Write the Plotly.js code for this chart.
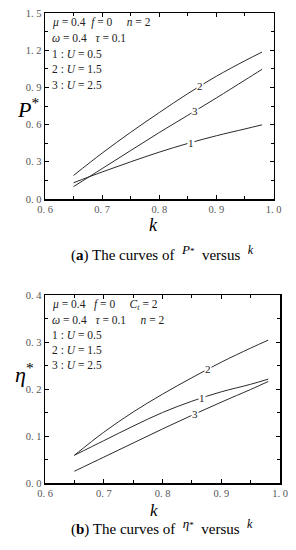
<!DOCTYPE html>
<html>
<head>
<meta charset="utf-8">
<script src="https://cdn.plot.ly/plotly-3.0.1.min.js"></script>
<style>html,body{margin:0;padding:0;background:#fff;}#chart{width:296px;height:550px;}</style>
</head>
<body>
<div id="chart"></div>
<script>
// ---- data ----
var kVals = [0.65, 0.70, 0.75, 0.80, 0.85, 0.90, 0.95, 0.98];
var P1 = [0.131, 0.218, 0.300, 0.378, 0.448, 0.510, 0.565, 0.598];
var P2 = [0.190, 0.370, 0.538, 0.697, 0.850, 0.990, 1.115, 1.185];
var P3 = [0.100, 0.245, 0.391, 0.536, 0.675, 0.815, 0.959, 1.046];
var eta1 = [0.059, 0.090, 0.121, 0.150, 0.174, 0.194, 0.210, 0.221];
var eta2 = [0.059, 0.108, 0.151, 0.189, 0.224, 0.257, 0.287, 0.304];
var eta3 = [0.025, 0.055, 0.085, 0.115, 0.144, 0.172, 0.199, 0.216];
var curveNames = ['1', '2', '3'];
var labelKTop = [0.856, 0.871, 0.862];
var labelKBot = [0.868, 0.877, 0.856];
var xTickVals = [0.6, 0.7, 0.8, 0.9, 1.0];
var xTickText = ['0.\u00a06', '0.\u00a07', '0.\u00a08', '0.\u00a09', '1.\u00a00'];
var yTickValsTop = [0, 0.3, 0.6, 0.9, 1.2, 1.5];
var yTickTextTop = ['0.\u00a00', '0.\u00a03', '0.\u00a06', '0.\u00a09', '1.\u00a02', '1.\u00a05'];
var yTickValsBot = [0, 0.1, 0.2, 0.3, 0.4];
var yTickTextBot = ['0.\u00a00', '0.\u00a01', '0.\u00a02', '0.\u00a03', '0.\u00a04'];
var textTop = ['<i>μ</i> = 0.4\u00a0\u00a0<i>f</i> = 0\u00a0\u00a0\u00a0\u00a0\u00a0<i>n</i> = 2',
               '<i>ω</i> = 0.4\u00a0\u00a0\u00a0<i>τ</i> = 0.1',
               '1 : <i>U</i> = 0.5', '2 : <i>U</i> = 1.5', '3 : <i>U</i> = 2.5'];
var textBot = ['<i>μ</i> = 0.4\u00a0\u00a0\u00a0<i>f</i> = 0\u00a0\u00a0\u00a0\u00a0\u00a0<i>C<sub>t</sub></i> = 2',
               '<i>ω</i> = 0.4\u00a0\u00a0\u00a0<i>τ</i> = 0.1\u00a0\u00a0\u00a0\u00a0\u00a0<i>n</i> = 2',
               '1 : <i>U</i> = 0.5', '2 : <i>U</i> = 1.5', '3 : <i>U</i> = 2.5'];

// ---- helpers ----
var W = 296, H = 550;
function px(x){ return x / W; }
function py(y){ return 1 - y / H; }
function interp(xs, ys, x){
  for (var i = 0; i < xs.length - 1; i++) {
    if (x >= xs[i] && x <= xs[i+1]) {
      var t = (x - xs[i]) / (xs[i+1] - xs[i]);
      return ys[i] + t * (ys[i+1] - ys[i]);
    }
  }
  return ys[ys.length-1];
}
var serif = 'Liberation Serif, DejaVu Serif, serif';
var lineColor = '#2a2a2a';

var topSeries = [P1, P2, P3];
var botSeries = [eta1, eta2, eta3];
var traces = [];
topSeries.forEach(function(s){
  traces.push({x: kVals, y: s, xaxis: 'x', yaxis: 'y', mode: 'lines',
    line: {color: lineColor, width: 1, shape: 'spline'}, showlegend: false, hoverinfo: 'skip'});
});
botSeries.forEach(function(s){
  traces.push({x: kVals, y: s, xaxis: 'x2', yaxis: 'y2', mode: 'lines',
    line: {color: lineColor, width: 1, shape: 'spline'}, showlegend: false, hoverinfo: 'skip'});
});

function axisX(domain, anchor){
  return {domain: domain, anchor: anchor, range: [0.6, 1.0], tickvals: xTickVals, ticktext: xTickText,
    ticks: 'inside', ticklen: 4, tickwidth: 1, tickcolor: '#000',
    minor: {dtick: 0.05, tick0: 0.6, ticks: 'inside', ticklen: 3, tickcolor: '#000'},
    showline: true, linecolor: '#000', linewidth: 1.5, mirror: 'allticks',
    showgrid: false, zeroline: false, fixedrange: true,
    tickfont: {family: serif, size: 10.5, color: '#555'}};
}
function axisY(domain, anchor, range, vals, text, minorStep){
  return {domain: domain, anchor: anchor, range: range, tickvals: vals, ticktext: text,
    ticks: 'inside', ticklen: 4, tickwidth: 1, tickcolor: '#000',
    minor: {dtick: minorStep, tick0: 0, ticks: 'inside', ticklen: 3, tickcolor: '#000'},
    showline: true, linecolor: '#000', linewidth: 1.5, mirror: 'allticks',
    showgrid: false, zeroline: false, fixedrange: true,
    tickfont: {family: serif, size: 10.5, color: '#555'}};
}

var annotations = [];
// in-plot legend text
textTop.forEach(function(t, i){
  annotations.push({xref: 'paper', yref: 'paper', x: px(50), y: py(22.5 + i * 15.6), text: t,
    showarrow: false, xanchor: 'left', yanchor: 'middle', font: {family: serif, size: 11.5, color: '#222'}});
});
textBot.forEach(function(t, i){
  annotations.push({xref: 'paper', yref: 'paper', x: px(50), y: py(305 + i * 15), text: t,
    showarrow: false, xanchor: 'left', yanchor: 'middle', font: {family: serif, size: 11.5, color: '#222'}});
});
// curve labels
curveNames.forEach(function(n, i){
  annotations.push({xref: 'x', yref: 'y', x: labelKTop[i], y: interp(kVals, topSeries[i], labelKTop[i]),
    text: n, showarrow: false, bgcolor: '#fff', borderpad: 0,
    font: {family: serif, size: 11, color: '#222'}});
  annotations.push({xref: 'x2', yref: 'y2', x: labelKBot[i], y: interp(kVals, botSeries[i], labelKBot[i]),
    text: n, showarrow: false, bgcolor: '#fff', borderpad: 0,
    font: {family: serif, size: 11, color: '#222'}});
});
// axis titles
annotations.push({xref: 'paper', yref: 'paper', x: px(15), y: py(92), text: '<i>P</i><sup>*</sup>',
  showarrow: false, font: {family: serif, size: 22, color: '#000'}});
annotations.push({xref: 'paper', yref: 'paper', x: px(153), y: py(225), text: '<i>k</i>',
  showarrow: false, font: {family: serif, size: 18, color: '#000'}});
annotations.push({xref: 'paper', yref: 'paper', x: px(13), y: py(389), text: '<i>η</i><sup>*</sup>',
  showarrow: false, font: {family: serif, size: 22, color: '#000'}});
annotations.push({xref: 'paper', yref: 'paper', x: px(154), y: py(510), yanchor: 'middle', text: '<i>k</i>',
  showarrow: false, font: {family: serif, size: 17, color: '#000'}});
// captions
annotations.push({xref: 'paper', yref: 'paper', x: px(162), y: py(253),
  text: '(<b>a</b>) The curves of\u00a0\u00a0<sup><span style="font-size:13px"><i>P</i></span><span style="font-size:9px">*</span></sup>\u00a0\u00a0versus\u00a0\u00a0<sup><span style="font-size:12px"><i>k</i></span></sup>',
  showarrow: false, font: {family: serif, size: 15, color: '#000'}});
annotations.push({xref: 'paper', yref: 'paper', x: px(162), y: py(540),
  text: '(<b>b</b>) The curves of\u00a0\u00a0<sup><span style="font-size:13px"><i>η</i></span><span style="font-size:9px">*</span></sup>\u00a0\u00a0versus\u00a0\u00a0<sup><span style="font-size:12px"><i>k</i></span></sup>',
  showarrow: false, font: {family: serif, size: 15, color: '#000'}});

var layout = {
  width: W, height: H,
  margin: {l: 0, r: 0, t: 0, b: 0},
  paper_bgcolor: '#fff', plot_bgcolor: '#fff',
  showlegend: false,
  xaxis: axisX([px(45), px(273.5)], 'y'),
  yaxis: axisY([py(199), py(13)], 'x', [0, 1.5], yTickValsTop, yTickTextTop, 0.15),
  xaxis2: axisX([px(45), px(280)], 'y2'),
  yaxis2: axisY([py(483), py(295)], 'x2', [0, 0.4], yTickValsBot, yTickTextBot, 0.05),
  annotations: annotations
};

Plotly.newPlot('chart', traces, layout, {staticPlot: true, displayModeBar: false});
</script>
</body>
</html>
